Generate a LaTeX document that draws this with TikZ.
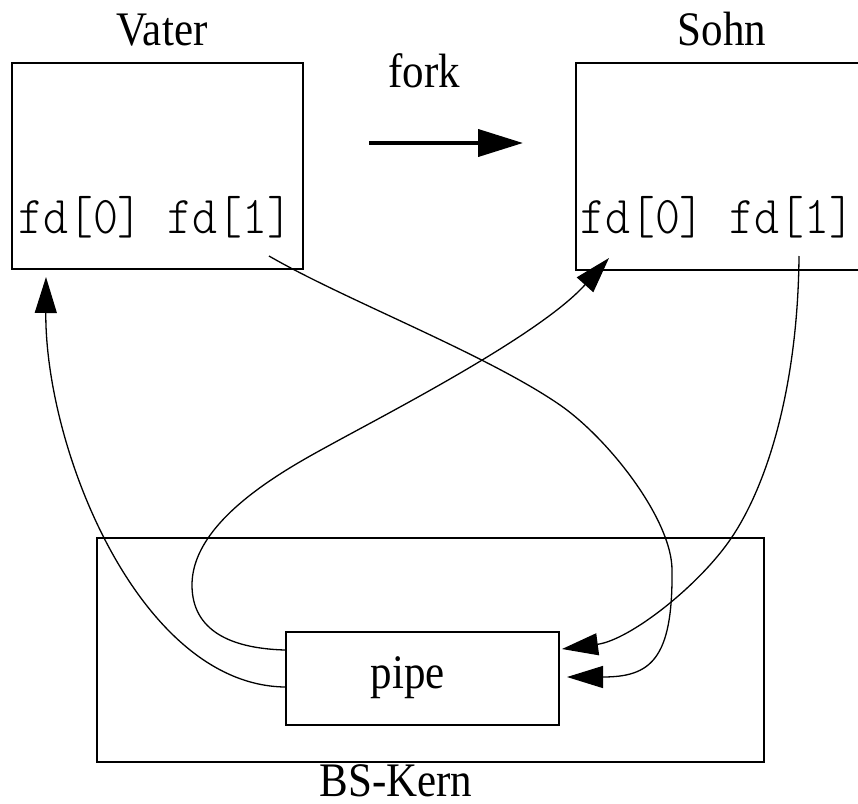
\documentclass[tikz,border=0pt]{standalone}
\usepackage{fontspec}
\setmainfont{Liberation Serif}
\newfontfamily\fdfont{Latin Modern Mono Light}
\usepackage{graphicx}
\usetikzlibrary{arrows.meta}
% text is set slightly taller than wide
\newcommand{\vstretch}[1]{\scalebox{1}[1.12]{#1}}
\tikzset{
  box/.style={draw, line width=2pt, inner sep=0pt},
  titletext/.style={font=\fontsize{43}{48}\selectfont, inner sep=0pt, anchor=base},
  fdtext/.style={font=\fontsize{47.5}{52}\selectfont\fdfont, inner sep=0pt, anchor=base west},
  link/.style={line width=1.3pt, -{Triangle[length=36pt,width=22pt]}},
  forkarrow/.style={line width=4pt, -{Triangle[length=45pt,width=27pt]}},
}
\begin{document}
\begin{tikzpicture}[x=1pt,y=-1pt]
\clip (0,0) rectangle (858,803);
\fill[white] (0,0) rectangle (858,803);

% processes and kernel
\node[box, minimum width=291pt, minimum height=206pt] (vater) at (157.5,166) {};
\node[box, minimum width=291pt, minimum height=207pt] (sohn) at (721.5,166.5) {};
\node[box, minimum width=667pt, minimum height=224pt] (kern) at (430.5,650) {};
\node[box, minimum width=273pt, minimum height=93pt] (pipe) at (422.5,678.5) {};

% labels
\node[titletext] (vaterlabel) at (162,45) {\vstretch{Vater}};
\node[titletext] (sohnlabel) at (722,45) {\vstretch{Sohn}};
\node[titletext] (forklabel) at (424,87) {\vstretch{fork}};
\node[titletext] (pipelabel) at (408,688) {\vstretch{pipe}};
\node[titletext] (kernlabel) at (396,796) {\vstretch{BS-Kern}};

% file descriptors
\node[fdtext] (vaterfd) at (18,233) {\vstretch{fd[0] fd[1]}};
\node[fdtext] (sohnfd) at (580,233) {\vstretch{fd[0] fd[1]}};

% fork arrow
\coordinate (forkstart) at (369,143);
\coordinate (forkend) at (523,143);
\draw[forkarrow] (forkstart) -- (forkend);

% pipe read end -> Vater fd[0]
\draw[link] ([yshift=-8.5pt]pipe.west)
  .. controls (140,685) and (45,450) .. ([xshift=35pt,yshift=-7pt]vater.south west);

% pipe read end -> Sohn fd[0]
\draw[link] ([yshift=28.5pt]pipe.west)
  .. controls (215,648) and (192,620) .. (192,585)
  .. controls (192,520) and (286,469) .. (330,445)
  .. controls (390,412) and (540,335) .. ([xshift=34pt,yshift=13pt]sohn.south west);

% Vater fd[1] -> pipe write end
\draw[link] ([xshift=-35pt,yshift=14pt]vater.south east)
  .. controls (345,300) and (486,354) .. (560,405)
  .. controls (609,439) and (672,520) .. (672,570)
  .. controls (673,660) and (650,677) .. ([xshift=7pt,yshift=1.5pt]pipe.east);

% Sohn fd[1] -> pipe write end
\draw[link] ([xshift=-69pt,yshift=15pt]sohn.south east)
  .. controls (798,380) and (770,480) .. (732,537)
  .. controls (700,585) and (630,640) .. ([xshift=2pt,yshift=29.5pt]pipe.east);
\end{tikzpicture}
\end{document}
